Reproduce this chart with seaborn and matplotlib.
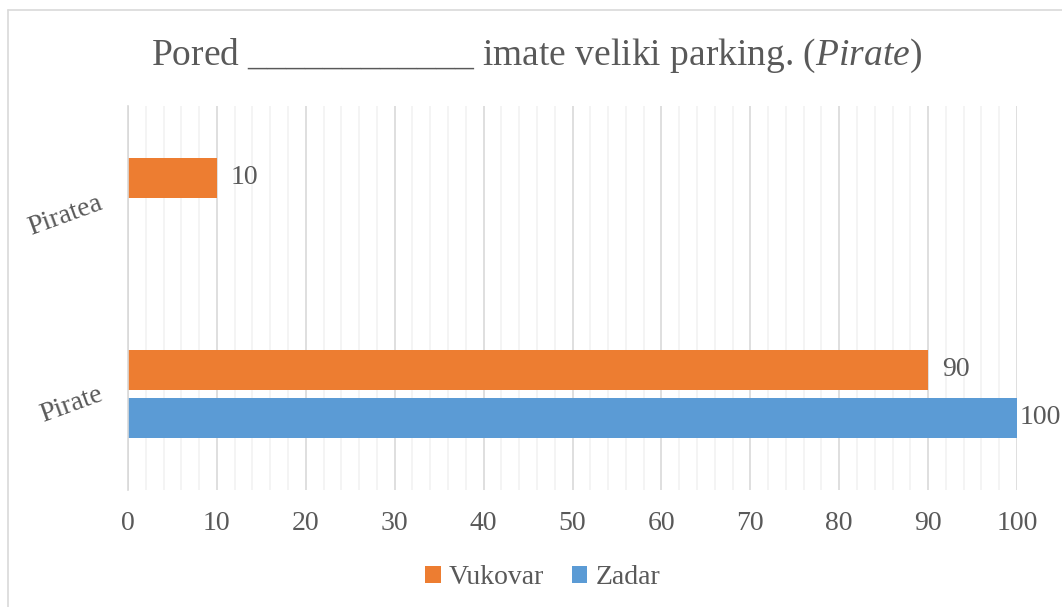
import matplotlib.pyplot as plt
import pandas as pd
import seaborn as sns
from matplotlib.lines import Line2D
from matplotlib.patches import Patch
from matplotlib.ticker import MultipleLocator

categories = ["Piratea", "Pirate"]
series = ["Vukovar", "Zadar"]
vukovar = [10, 90]
zadar = [0, 100]
colors = {"Vukovar": "#ED7D31", "Zadar": "#5B9BD5"}
TEXT = "#595959"

df = pd.DataFrame(
    {
        "category": categories * 2,
        "series": ["Vukovar"] * len(categories) + ["Zadar"] * len(categories),
        "value": vukovar + zadar,
    }
)

sns.set_style("white")
plt.rcParams["font.family"] = ["Liberation Serif", "DejaVu Serif"]
plt.rcParams["mathtext.fontset"] = "custom"
plt.rcParams["mathtext.rm"] = "Liberation Serif"
plt.rcParams["mathtext.it"] = "Liberation Serif:italic"

fig = plt.figure(figsize=(10.62, 6.07), dpi=100)
ax = fig.add_axes([128 / 1062, 1 - 490 / 607, (1017 - 128) / 1062, (490 - 106) / 607])

sns.barplot(
    data=df, x="value", y="category", hue="series",
    order=categories, hue_order=series, palette=colors,
    orient="h", width=0.5, gap=0.16, ax=ax, legend=False, saturation=1,
    linewidth=0,
)

ax.set_xlim(0, 100)
ax.set_ylim(1.5, -0.5)
ax.xaxis.set_major_locator(MultipleLocator(10))
ax.xaxis.set_minor_locator(MultipleLocator(2))
ax.grid(axis="x", which="major", color="#D9D9D9", linewidth=1.2)
ax.grid(axis="x", which="minor", color="#F2F2F2", linewidth=1.2)
ax.set_axisbelow(True)
for side in ["top", "right", "bottom"]:
    ax.spines[side].set_visible(False)
ax.spines["left"].set_color("#D9D9D9")
ax.spines["left"].set_linewidth(1.2)

ax.tick_params(axis="x", which="both", length=0, pad=15, labelsize=20, labelcolor=TEXT)
ax.tick_params(axis="y", which="major", length=0, pad=19, labelsize=20, labelcolor=TEXT)
ax.set_yticks([-0.5, 0.5, 1.5], minor=True)
ax.tick_params(axis="y", which="minor", length=6, color="#D9D9D9", width=1.2)
for lbl in ax.get_yticklabels():
    lbl.set_rotation(20)
    lbl.set_rotation_mode("anchor")
    lbl.set_ha("right")
    lbl.set_va("center")
ax.set_xlabel("")
ax.set_ylabel("")

# data labels, zero bars stay unlabelled
pads = [10, 2]
for cont, pad in zip(ax.containers, pads):
    labels = [f"{v:g}" if v else "" for v in cont.datavalues]
    ax.bar_label(cont, labels=labels, padding=pad, fontsize=20, color=TEXT)

fig.suptitle("Pored ____________ imate veliki parking. ($\\it{Pirate}$)",
             x=537 / 1062, y=1 - 56 / 607, va="center",
             fontsize=27, color=TEXT)

handles = [Patch(facecolor=colors[s], edgecolor="none", label=s) for s in series]
fig.legend(handles=handles, loc="center", bbox_to_anchor=(543 / 1062, 1 - 578 / 607),
           ncol=2, frameon=False, fontsize=20, labelcolor=TEXT,
           handlelength=0.55, handleheight=0.55, handletextpad=0.3, columnspacing=1.0)

# chart-area border (left and top visible)
fig.add_artist(Line2D([8 / 1062, 8 / 1062], [0, 1 - 10 / 607], transform=fig.transFigure,
                      color="#D9D9D9", linewidth=1.2))
fig.add_artist(Line2D([8 / 1062, 1], [1 - 10 / 607, 1 - 10 / 607], transform=fig.transFigure,
                      color="#D9D9D9", linewidth=1.2))

fig.savefig("out.png", dpi=100)
